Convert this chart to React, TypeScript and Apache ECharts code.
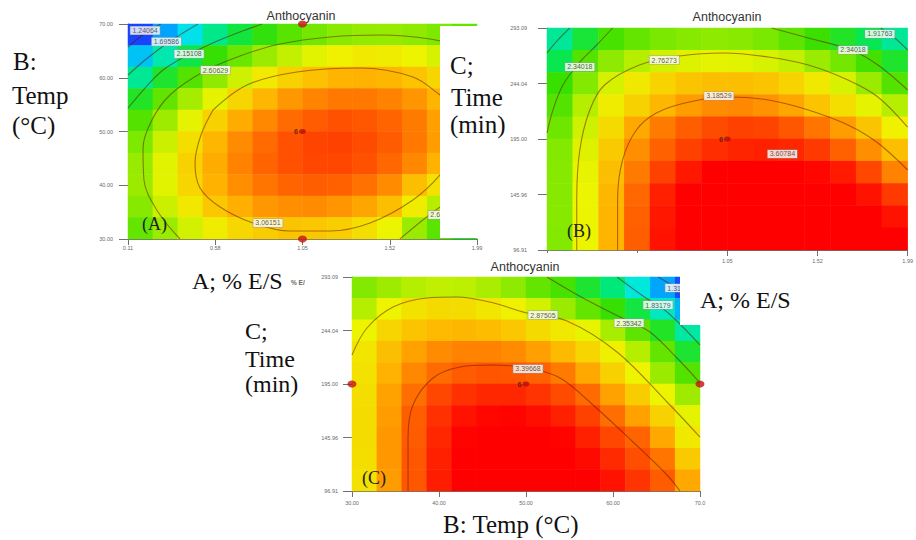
import React, { useEffect, useRef } from "react";
import * as echarts from "echarts";

// ---------- tick labels ----------
const aXTicks = ["0.11", "0.58", "1.05", "1.52", "1.99"];
const aYTicks = ["30.00", "40.00", "50.00", "60.00", "70.00"];
const bXTicks = ["0.11", "0.58", "1.05", "1.52", "1.99"];
const bXHiddenCount = 2; // first two B labels lie under panel C in the reference
const bYTicks = ["96.91", "145.96", "195.00", "244.04", "293.09"];
const cXTicks = ["30.00", "40.00", "50.00", "60.00", "70.0"];
const cYTicks = ["96.91", "145.96", "195.00", "244.04", "293.09"];

// ---------- response surfaces (rows top -> bottom, 14 columns) ----------
const aSurface = [
  [1.22, 1.49, 1.73, 1.95, 2.13, 2.28, 2.41, 2.5, 2.57, 2.6, 2.61, 2.58, 2.53, 2.44],
  [1.61, 1.87, 2.1, 2.3, 2.47, 2.62, 2.74, 2.83, 2.88, 2.91, 2.9, 2.87, 2.8, 2.69],
  [1.93, 2.18, 2.4, 2.59, 2.77, 2.91, 3.02, 3.09, 3.14, 3.15, 3.13, 3.08, 3.0, 2.89],
  [2.2, 2.44, 2.65, 2.84, 3.0, 3.13, 3.23, 3.29, 3.33, 3.33, 3.3, 3.24, 3.14, 3.02],
  [2.4, 2.63, 2.84, 3.02, 3.17, 3.28, 3.37, 3.42, 3.45, 3.43, 3.39, 3.32, 3.21, 3.08],
  [2.53, 2.76, 2.96, 3.13, 3.27, 3.37, 3.45, 3.49, 3.5, 3.47, 3.42, 3.33, 3.22, 3.07],
  [2.61, 2.83, 3.02, 3.17, 3.3, 3.39, 3.45, 3.48, 3.48, 3.45, 3.38, 3.28, 3.15, 2.99],
  [2.62, 2.83, 3.0, 3.15, 3.26, 3.34, 3.39, 3.41, 3.4, 3.35, 3.27, 3.1, 2.95, 2.75],
  [2.56, 2.76, 2.92, 3.06, 3.16, 3.23, 3.26, 3.27, 3.24, 3.19, 3.1, 2.9, 2.7, 2.5],
  [2.45, 2.62, 2.78, 2.9, 2.99, 3.04, 3.07, 3.06, 3.03, 2.96, 2.86, 2.62, 2.42, 2.2],
];
const bSurface = [
  [1.92, 2.15, 2.36, 2.45, 2.52, 2.56, 2.58, 2.57, 2.52, 2.43, 2.32, 2.2, 2.07, 1.92],
  [2.08, 2.4, 2.58, 2.7, 2.78, 2.82, 2.84, 2.83, 2.8, 2.74, 2.62, 2.5, 2.35, 2.18],
  [2.31, 2.55, 2.79, 2.92, 3.01, 3.07, 3.1, 3.1, 3.07, 3.01, 2.92, 2.8, 2.62, 2.4],
  [2.4, 2.7, 2.9, 3.02, 3.13, 3.22, 3.27, 3.28, 3.25, 3.19, 3.08, 2.96, 2.84, 2.7],
  [2.48, 2.77, 2.98, 3.18, 3.32, 3.41, 3.47, 3.5, 3.49, 3.43, 3.34, 3.22, 3.07, 2.88],
  [2.55, 2.82, 3.05, 3.26, 3.4, 3.5, 3.56, 3.59, 3.6, 3.58, 3.52, 3.4, 3.26, 3.1],
  [2.56, 2.85, 3.1, 3.32, 3.5, 3.63, 3.7, 3.74, 3.75, 3.73, 3.68, 3.62, 3.48, 3.3],
  [2.56, 2.86, 3.13, 3.38, 3.6, 3.72, 3.79, 3.83, 3.85, 3.84, 3.8, 3.73, 3.64, 3.52],
  [2.56, 2.86, 3.14, 3.4, 3.63, 3.76, 3.84, 3.88, 3.9, 3.9, 3.87, 3.82, 3.74, 3.64],
  [2.55, 2.86, 3.14, 3.41, 3.64, 3.78, 3.86, 3.91, 3.93, 3.93, 3.91, 3.87, 3.8, 3.72],
];
const cSurface = [
  [2.55, 2.63, 2.7, 2.73, 2.72, 2.67, 2.58, 2.45, 2.36, 2.17, 1.98, 1.78, 1.5, 1.25],
  [2.7, 2.87, 2.95, 2.98, 2.97, 2.93, 2.88, 2.78, 2.62, 2.45, 2.3, 2.12, 1.84, 1.55],
  [2.86, 3.0, 3.08, 3.12, 3.13, 3.11, 3.06, 2.98, 2.92, 2.85, 2.66, 2.43, 2.2, 1.9],
  [2.93, 3.1, 3.2, 3.27, 3.3, 3.3, 3.27, 3.21, 3.12, 3.0, 2.89, 2.7, 2.45, 2.17],
  [2.95, 3.15, 3.28, 3.37, 3.42, 3.44, 3.43, 3.4, 3.32, 3.18, 3.02, 2.87, 2.62, 2.4],
  [2.96, 3.2, 3.36, 3.48, 3.55, 3.58, 3.58, 3.54, 3.47, 3.37, 3.2, 3.04, 2.86, 2.63],
  [2.97, 3.22, 3.41, 3.55, 3.64, 3.68, 3.69, 3.66, 3.6, 3.5, 3.36, 3.2, 3.02, 2.84],
  [2.97, 3.23, 3.42, 3.58, 3.69, 3.74, 3.76, 3.74, 3.69, 3.6, 3.48, 3.39, 3.18, 2.92],
  [2.96, 3.23, 3.43, 3.6, 3.72, 3.78, 3.8, 3.79, 3.75, 3.67, 3.57, 3.46, 3.34, 3.05],
  [2.95, 3.22, 3.43, 3.61, 3.74, 3.81, 3.84, 3.83, 3.8, 3.73, 3.64, 3.54, 3.42, 3.18],
];

// ---------- contour lines [x, y] ----------
const aC124 = [[0.11, 65.72], [0.175, 67.58], [0.239, 69.07], [0.287, 70.0]];
const aC170 = [[0.11, 60.51], [0.202, 63.3], [0.315, 66.28], [0.406, 68.33], [0.487, 70.0]];
const aC215 = [[0.11, 54.37], [0.202, 58.09], [0.299, 61.44], [0.433, 64.23], [0.579, 66.65], [0.713, 68.51], [0.832, 70.0]];
const aC261a = [[0.39, 30.0], [0.272, 35.02], [0.196, 40.98], [0.191, 46.93], [0.239, 52.14], [0.336, 56.79], [0.514, 61.07], [0.713, 64.05], [0.929, 66.28], [1.198, 67.58], [1.468, 67.95], [1.737, 67.21], [1.99, 65.16]];
const aC261b = [[1.99, 40.05], [1.791, 35.95], [1.575, 30.0]];
const aC306 = [[0.568, 54.0], [0.503, 49.35], [0.471, 44.14], [0.498, 39.49], [0.606, 35.95], [0.783, 32.98], [0.983, 31.49], [1.198, 31.49], [1.414, 32.98], [1.645, 37.26], [1.791, 41.91], [1.925, 48.42], [1.898, 54.0], [1.791, 56.79], [1.645, 60.14], [1.36, 61.81], [1.02, 61.07], [0.751, 58.65], [0.568, 54.0]];
const aLabelText = ["1.24064", "1.69586", "2.15108", "2.60629", "3.06151", "2.60629"];
const aLabelAt = [[0.202, 68.79], [0.317, 66.7], [0.439, 64.42], [0.581, 61.44], [0.864, 32.98], [1.807, 34.47]];

const bC192a = [[0.11, 270.99], [0.167, 282.49], [0.229, 293.09]];
const bC192b = [[1.85, 293.09], [1.923, 284.25], [1.99, 273.65]];
const bC234a = [[0.11, 200.3], [0.141, 220.63], [0.193, 242.72], [0.281, 263.05], [0.369, 278.07], [0.452, 293.09]];
const bC234b = [[1.28, 293.09], [1.472, 284.25], [1.695, 273.65], [1.835, 260.4], [1.99, 238.3]];
const bC276 = [[0.265, 96.91], [0.265, 141.1], [0.281, 185.28], [0.333, 220.63], [0.41, 242.72], [0.592, 260.4], [0.799, 268.35], [1.032, 271.0], [1.265, 267.47], [1.472, 260.4], [1.679, 247.14], [1.835, 232.12], [1.99, 205.4]];
const bC319 = [[0.478, 96.91], [0.478, 141.1], [0.504, 176.44], [0.576, 202.95], [0.68, 217.98], [0.851, 227.7], [1.058, 232.12], [1.265, 229.47], [1.472, 220.63], [1.679, 207.37], [1.835, 191.47], [1.99, 167.61]];
const bLabelText = ["1.91763", "2.34018", "2.34018", "2.76273", "3.18529", "3.60784"];
const bLabelAt = [[1.845, 287.8], [1.705, 273.65], [0.281, 258.63], [0.721, 264.81], [1.006, 233.0], [1.337, 181.75]];

const cC131 = [[65.17, 293.09], [67.7, 281.17], [70.0, 267.42]];
const cC183 = [[60.46, 293.09], [63.45, 275.67], [66.21, 261.0], [70.0, 230.75]];
const cC235 = [[52.41, 293.09], [56.55, 273.84], [61.95, 251.84], [64.25, 242.67], [67.36, 218.84], [70.0, 195.92]];
const cC288 = [[30.0, 221.58], [31.72, 246.33], [34.71, 265.59], [38.62, 273.84], [42.07, 274.76], [45.86, 270.17], [50.11, 260.09], [54.71, 252.75], [60.46, 224.33], [66.21, 178.5], [70.0, 146.41]];
const cC340 = [[36.44, 96.91], [36.44, 145.5], [37.01, 175.75], [39.31, 200.5], [42.41, 210.58], [45.86, 212.4], [50.23, 209.7], [53.91, 200.5], [57.7, 175.75], [62.3, 141.83], [66.21, 111.58], [67.7, 96.91]];
const cLabelText = ["1.31016", "1.83179", "2.35342", "2.87505", "3.39668"];
const cLabelAt = [[67.7, 283.0], [65.17, 267.42], [61.84, 250.92], [51.95, 258.25], [50.23, 208.8]];

// ---------- design points ----------
const centerReplicates = "6";
const aCenter = [[1.05, 50]];
const aAxial = [[1.05, 70], [1.05, 30]];
const bCenter = [[1.05, 195]];
const cCenter = [[50, 195]];
const cAxial = [[30, 195], [70, 195]];

const colorStops = ["#1a3cff", "#00a0ff", "#00e8e8", "#00e860", "#38e000", "#90ea00", "#eef400", "#ffb400", "#ff5a00", "#ff0000"];

const serif = '"Liberation Serif", "Times New Roman", serif';
const sans = '"Liberation Sans", Arial, sans-serif';
const axisGray = "#707070";

function cells(rows: number[][]) {
  const out: number[][] = [];
  rows.forEach((r, j) => r.forEach((v, i) => out.push([i, j, v])));
  return out;
}

function catAxes(grid: number, rows: number[][]) {
  const x = { type: "category", gridIndex: grid, show: false, position: "top", data: rows[0].map((_, i) => String(i)) };
  const y = { type: "category", gridIndex: grid, show: false, position: "right", inverse: true, data: rows.map((_, i) => String(i)) };
  return { x, y };
}

function valAxis(grid: number, pos: string, min: number, max: number, interval: number, ticks: string[], margin: number, tickLen: number, hidden = 0) {
  return {
    type: "value",
    gridIndex: grid,
    position: pos,
    min,
    max,
    interval,
    axisLine: { show: true, onZero: false, lineStyle: { color: axisGray, width: 1 } },
    axisTick: { show: true, length: tickLen, lineStyle: { color: axisGray } },
    splitLine: { show: false },
    axisLabel: {
      fontSize: 5.5,
      color: "#6a6a6a",
      fontFamily: sans,
      margin,
      formatter: (v: number) => {
        const k = Math.round((v - min) / interval);
        return k < hidden ? "" : ticks[k] ?? "";
      },
    },
  };
}

const contourStyle = { color: "rgba(100,20,0,0.5)", width: 1.1 };

function contour(points: number[][], xi: number, yi: number) {
  return { type: "line", xAxisIndex: xi, yAxisIndex: yi, data: points, smooth: 0.35, symbol: "none", lineStyle: contourStyle, silent: true, z: 3 };
}

function contourLabels(text: string[], at: number[][], xi: number, yi: number) {
  return {
    type: "scatter",
    xAxisIndex: xi,
    yAxisIndex: yi,
    symbolSize: 1,
    itemStyle: { color: "rgba(0,0,0,0)" },
    data: at.map((p, k) => ({ value: p, name: text[k] })),
    label: {
      show: true,
      position: "inside",
      formatter: "{b}",
      fontSize: 7,
      lineHeight: 8,
      fontFamily: sans,
      color: "#333",
      backgroundColor: "#fff",
      borderColor: "#9a9a9a",
      borderWidth: 0.6,
      padding: [0, 2],
    },
    silent: true,
    clip: false,
    z: 4,
  };
}

function centerPoint(data: number[][], xi: number, yi: number) {
  return {
    type: "scatter",
    xAxisIndex: xi,
    yAxisIndex: yi,
    data,
    symbol: "circle",
    symbolSize: [7, 5],
    itemStyle: { color: "#b01010" },
    label: { show: true, formatter: centerReplicates, position: "left", distance: 1, fontSize: 7, fontWeight: "bold", color: "#3a1a10", fontFamily: sans },
    silent: true,
    z: 5,
  };
}

function axialPoints(data: number[][], xi: number, yi: number) {
  return { type: "scatter", xAxisIndex: xi, yAxisIndex: yi, data, symbol: "circle", symbolSize: [9, 7], itemStyle: { color: "#c41212" }, silent: true, clip: false, z: 5 };
}

function txt(text: string, x: number, y: number, size: number, extra: any = {}) {
  return {
    type: "text",
    x,
    y,
    z: 60,
    silent: true,
    style: { text, fontSize: size, fontFamily: serif, fill: "#111", align: "left", verticalAlign: "middle", ...extra },
  };
}

export default function App() {
  const ref = useRef<HTMLDivElement>(null);

  useEffect(() => {
    document.body.style.margin = "0";
    if (!ref.current) return;
    const chart = echarts.init(ref.current, undefined, { renderer: "svg" });

    const ca = catAxes(0, aSurface);
    const cb = catAxes(1, bSurface);
    const cc = catAxes(2, cSurface);

    const option: any = {
      animation: false,
      backgroundColor: "#ffffff",
      grid: [
        { left: 128, top: 24, width: 349, height: 215 },
        { left: 547, top: 28, width: 363, height: 222 },
        { left: 352, top: 277, width: 348, height: 214 },
      ],
      xAxis: [
        ca.x,
        valAxis(0, "bottom", 0.11, 1.99, 0.47, aXTicks, 6, 6),
        cb.x,
        valAxis(1, "bottom", 0.11, 1.99, 0.47, bXTicks, 8, 6, bXHiddenCount),
        cc.x,
        valAxis(2, "bottom", 30, 70, 10, cXTicks, 9, 6),
      ],
      yAxis: [
        ca.y,
        valAxis(0, "left", 30, 70, 10, aYTicks, 15, 9),
        cb.y,
        valAxis(1, "left", 96.91, 293.09, 49.045, bYTicks, 20, 9),
        cc.y,
        valAxis(2, "left", 96.91, 293.09, 49.045, cYTicks, 14, 9),
      ],
      visualMap: {
        type: "continuous",
        show: false,
        min: 1.2,
        max: 3.7,
        dimension: 2,
        seriesIndex: [0, 1, 2],
        inRange: { color: colorStops },
      },
      series: [
        { type: "heatmap", xAxisIndex: 0, yAxisIndex: 0, data: cells(aSurface), silent: true, z: 2 },
        { type: "heatmap", xAxisIndex: 2, yAxisIndex: 2, data: cells(bSurface), silent: true, z: 2 },
        { type: "heatmap", xAxisIndex: 4, yAxisIndex: 4, data: cells(cSurface), silent: true, z: 2 },
        contour(aC124, 1, 1),
        contour(aC170, 1, 1),
        contour(aC215, 1, 1),
        contour(aC261a, 1, 1),
        contour(aC261b, 1, 1),
        contour(aC306, 1, 1),
        contour(bC192a, 3, 3),
        contour(bC192b, 3, 3),
        contour(bC234a, 3, 3),
        contour(bC234b, 3, 3),
        contour(bC276, 3, 3),
        contour(bC319, 3, 3),
        contour(cC131, 5, 5),
        contour(cC183, 5, 5),
        contour(cC235, 5, 5),
        contour(cC288, 5, 5),
        contour(cC340, 5, 5),
        contourLabels(aLabelText, aLabelAt, 1, 1),
        contourLabels(bLabelText, bLabelAt, 3, 3),
        contourLabels(cLabelText, cLabelAt, 5, 5),
        centerPoint(aCenter, 1, 1),
        centerPoint(bCenter, 3, 3),
        centerPoint(cCenter, 5, 5),
        axialPoints(aAxial, 1, 1),
        axialPoints(cAxial, 5, 5),
      ],
      graphic: [
        { type: "rect", z: 50, silent: true, shape: { x: 440, y: 26, width: 40, height: 212 }, style: { fill: "#ffffff" } },
        { type: "rect", z: 5, silent: true, shape: { x: 530, y: 253, width: 182, height: 8 }, style: { fill: "#ffffff" } },
        { type: "rect", z: 50, silent: true, shape: { x: 680, y: 266, width: 136, height: 59 }, style: { fill: "#ffffff" } },
        txt("Anthocyanin", 301, 16, 12.5, { fontFamily: sans, fill: "#333", align: "center" }),
        txt("Anthocyanin", 727, 17, 12.5, { fontFamily: sans, fill: "#333", align: "center" }),
        txt("Anthocyanin", 525, 267, 12.5, { fontFamily: sans, fill: "#333", align: "center" }),
        txt("(A)", 142, 224, 18, { fill: "#222" }),
        txt("(B)", 567, 231, 18, { fill: "#222" }),
        txt("(C)", 362, 478, 18, { fill: "#222" }),
        txt("% E/", 291, 282, 6.5, { fontFamily: sans, fill: "#666", fontWeight: "bold" }),
        txt("B:", 13, 61, 25),
        txt("Temp", 12, 95, 25),
        txt("(°C)", 12, 125, 25),
        txt("C;", 450, 65, 25),
        txt("Time", 451, 97, 25),
        txt("(min)", 450, 124, 25),
        txt("A; % E/S", 192, 281, 24),
        txt("C;", 245, 331, 24),
        txt("Time", 245, 359, 24),
        txt("(min)", 245, 384, 24),
        txt("A; % E/S", 700, 300, 24),
        txt("B: Temp (°C)", 443, 524, 25),
      ],
    };

    chart.setOption(option);
    return () => chart.dispose();
  }, []);

  return <div ref={ref} style={{ position: "absolute", left: 0, top: 0, width: 916, height: 540 }} />;
}
